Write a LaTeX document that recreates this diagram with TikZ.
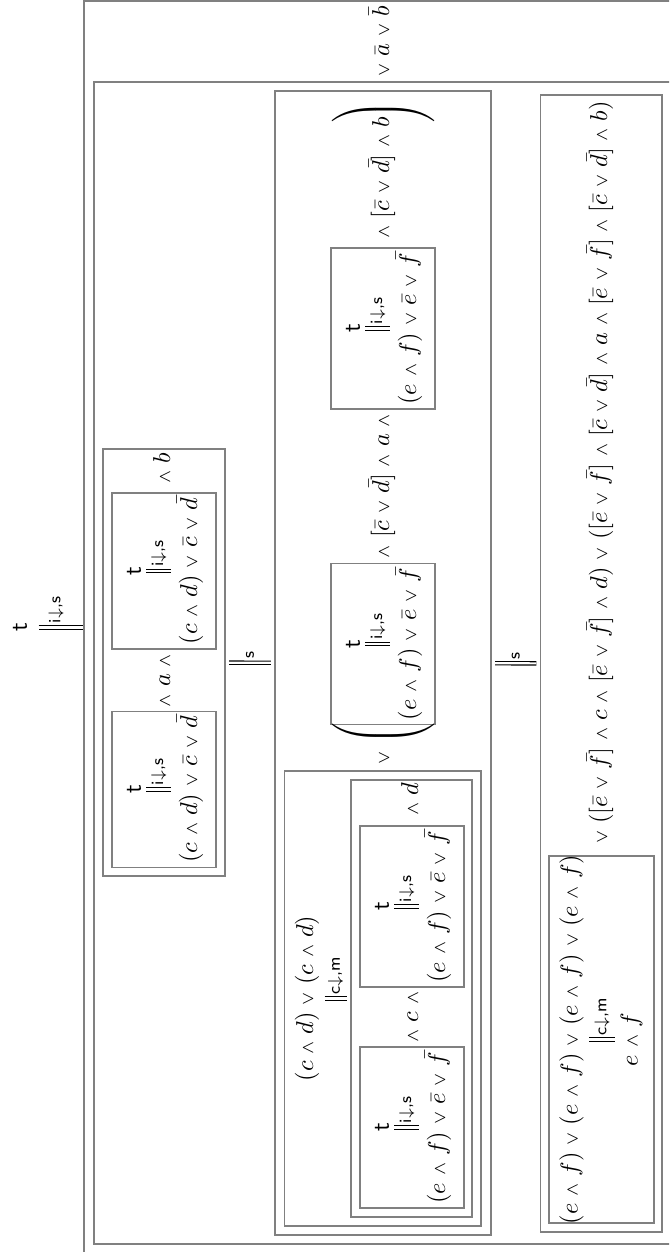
\documentclass[tikz,border=0pt]{standalone}
\usepackage{amssymb}
\usetikzlibrary{fit}
\newcommand{\AND}{\mathbin{\hbox to 6.67pt{\hss$\scriptstyle\wedge$\hss}}}
\newcommand{\OR}{\mathbin{\hbox to 6.67pt{\hss$\scriptstyle\vee$\hss}}}
\newcommand{\tall}{\vcenter{\hbox{\rule{0pt}{44pt}}}}

\begin{document}
\begin{tikzpicture}[x=0.41pt, y=-0.41pt,
    frame/.style={draw=black!50, line width=0.45pt, inner sep=0pt},
    rot/.style={rotate=90, inner sep=0.5pt},
    rowtxt/.style={rotate=90, anchor=base, inner sep=0pt},
    eq/.style={double, double distance=0.9pt, line width=0.45pt, shorten <=1.5pt, shorten >=1.5pt},
    rule/.style={rotate=90, anchor=west, font=\scriptsize\sffamily, inner sep=1.5pt}]
    \useasboundingbox (0,0) rectangle (669,1252);
    \clip (0,0) rectangle (669,1252);
    \node[frame, fit={(84,1) (681,1254)}] (A) {};
    \node[frame, fit={(94,82) (671,1244)}] (B) {};
    \node[frame, fit={(103,449) (225,876)}] (C) {};
    \node[frame, fit={(275,91) (491,1235)}] (D) {};
    \node[frame, fit={(284.5,771) (481,1226)}] (D1) {};
    \node[frame, fit={(351,780) (472,1217)}] (D1a) {};
    \node[frame, fit={(540.5,95) (662,1232)}] (E) {};
    \node[frame, fit={(549,856) (654,1223)}] (E1) {};
    \foreach \n/\x/\y/\h/\m in {
        c2/112/571/156/{(c\AND d)\OR\bar c\OR\bar d},
        c1/112/789.5/156/{(c\AND d)\OR\bar c\OR\bar d},
        d3/331/328.5/161/{(e\AND f)\OR\bar e\OR\bar f},
        d2/331/644/161/{(e\AND f)\OR\bar e\OR\bar f},
        d1a2/360/906.5/161/{(e\AND f)\OR\bar e\OR\bar f},
        d1a1/360/1127.5/161/{(e\AND f)\OR\bar e\OR\bar f}} {
        \node[frame, fit={(\x,\y-\h/2) (\x+104,\y+\h/2)}] (\n) {};
        \node[rot] (\n-t) at (\x+22,\y) {\textsf{t}};
        \node[rot] (\n-m) at (\x+78,\y) {$\m$};
        \draw[eq] (\n-t) -- (\n-m) node[midway, rule] {i$\downarrow$,s};
    }
    \node[rot] (top) at (20,627.5) {\textsf{t}};
    \draw[eq, shorten <=4pt, shorten >=0pt] (top) -- (A.west) node[midway, rule] {i$\downarrow$,s};
    \draw[eq] (C) -- (D) node[midway, rule] {s};
    \draw[eq] (D) -- (E) node[midway, rule] {s};
    \node[rowtxt] (a-end) at (389,45) {${}\OR\bar a\OR\bar b$};
    \node[rowtxt] (c-b) at (170,471.5) {${}\AND b$};
    \node[rowtxt] (c-a) at (170,680.5) {${}\AND a\AND{}$};
    \node[rowtxt] (d-end) at (389,181) {${}\AND[\bar c\OR\bar d]\AND b$};
    \node[rowtxt] (d-mid) at (389,486) {${}\AND[\bar c\OR\bar d]\AND a\AND{}$};
    \node[rowtxt] (d-or) at (389,758) {${}\OR{}$};
    \node[rot] (d-close) at (383,113) {$\left.\tall\right)$};
    \node[rot] (d-open) at (383,732.5) {$\left(\tall\right.$};
    \node[rot] (d1f) at (307,998.5) {$(c\AND d)\OR(c\AND d)$};
    \draw[eq] (d1f) -- (D1a) node[midway, rule] {c$\downarrow$,m};
    \node[rowtxt] (d1a-d) at (418,803) {${}\AND d$};
    \node[rowtxt] (d1a-c) at (418,1017) {${}\AND c\AND{}$};
    \node[rot] (e1f) at (571.5,1039.5) {$(e\AND f)\OR(e\AND f)\OR(e\AND f)\OR(e\AND f)$};
    \node[rot] (e1g) at (631.5,1039.5) {$e\AND f$};
    \draw[eq] (e1f) -- (e1g) node[midway, rule] {c$\downarrow$,m};
    \node[rowtxt] (e-rest) at (607,476) {${}\OR([\bar e\OR\bar f]\AND c\AND[\bar e\OR\bar f]\AND d)\OR([\bar e\OR\bar f]\AND[\bar c\OR\bar d]\AND a\AND[\bar e\OR\bar f]\AND[\bar c\OR\bar d]\AND b)$};
\end{tikzpicture}
\end{document}
